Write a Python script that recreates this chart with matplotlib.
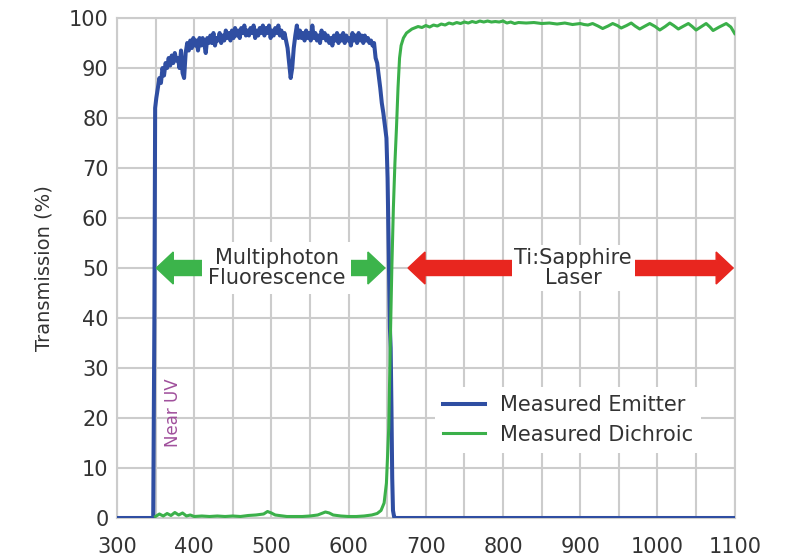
import matplotlib.pyplot as plt

plt.rcParams['font.family'] = ['DejaVu Sans']

# measured emitter (blue)
em_wl = [300, 347, 348.5, 349.5, 351, 353, 355, 357, 359, 361, 363, 365, 367, 369,
         371, 373, 375, 377, 379, 381, 383, 385, 387, 389, 391, 393, 395, 397, 399,
         401, 403, 405, 407, 409, 411, 413, 415, 417, 419, 421, 423, 425, 427, 429,
         431, 433, 435, 437, 439, 441, 443, 445, 447, 449, 451, 453, 455, 457, 459,
         461, 463, 465, 467, 469, 471, 473, 475, 477, 479, 481, 483, 485, 487, 489,
         491, 493, 495, 497, 499, 501, 503, 505, 507, 509, 511, 513, 515, 517, 519,
         521, 523, 525, 527, 529, 531, 533, 535, 537, 539, 541, 543, 545, 547, 549,
         551, 553, 555, 557, 559, 561, 563, 565, 567, 569, 571, 573, 575, 577, 579,
         581, 583, 585, 587, 589, 591, 593, 595, 597, 599, 601, 603, 605, 607, 609,
         611, 613, 615, 617, 619, 621, 623, 625, 627, 629, 631, 633, 635, 637, 639,
         641, 643, 645, 647, 649, 650.5, 651.5, 652.5, 653.5, 654.5, 655.5, 656.5,
         657.5, 659, 661, 1100]
em_t = [0, 0, 40, 82, 84, 86, 88, 87, 90, 88.5, 91, 90, 92, 90.5,
        92.5, 91, 93, 91.5, 92, 90, 93.5, 89, 88, 93, 95, 93.5, 95.5, 94, 96,
        94.5, 95.5, 93.5, 96, 94.5, 96, 95, 93, 96, 95, 96.5, 95, 97, 94.5, 96,
        95.5, 97, 95, 96.5, 95.5, 97.5, 96, 97, 95.5, 97.5, 96, 98, 96.5, 97.5, 96,
        98, 97, 98.5, 96.5, 97.5, 96.5, 98, 97, 98.5, 96, 97.5, 96.5, 98, 97, 98.5,
        96.5, 98, 97, 98.5, 96, 97.5, 96.5, 98, 97, 98.5, 96.5, 97.5, 96, 97, 95.5,
        94, 91, 88, 90, 94, 96.5, 98.5, 96, 97.5, 96, 97, 95.5, 97.5, 96, 97,
        95.5, 98.5, 96, 97, 95.5, 96.5, 95, 97.5, 96, 97, 95.5, 96.5, 95, 96, 94.5,
        96.5, 95.5, 97, 95, 96.5, 95.5, 97, 95, 96.5, 95.5, 96, 94.5, 97, 95.5, 96.5,
        95, 97, 95.5, 96.5, 95, 96.5, 95.5, 96, 95, 95.5, 94.5, 95, 92, 91, 88.5,
        86, 83, 81, 78.5, 76, 68, 58, 47, 38, 34, 22, 8,
        1.5, 0.2, 0, 0]

# measured dichroic (green)
di_wl = [350, 355, 360, 365, 370, 375, 380, 385, 390, 395, 400, 410, 420, 430, 440,
         450, 460, 470, 480, 490, 495, 500, 505, 510, 520, 530, 540, 550, 560, 565,
         570, 575, 580, 590, 600, 610, 620, 630, 637, 642, 646, 649, 652, 654, 656,
         658, 660, 662, 664, 666, 668, 671, 675, 682, 690, 695, 700, 705, 710, 715,
         720, 725, 730, 735, 740, 745, 750, 755, 760, 765, 770, 775, 780, 785, 790,
         795, 800, 805, 810, 815, 820, 830, 840, 850, 860, 870, 880, 890, 900, 905,
         910, 916, 923, 929, 936, 942, 948, 953, 960, 966, 971, 977, 984, 990, 997,
         1003, 1010, 1016, 1021, 1027, 1034, 1040, 1045, 1050, 1057, 1063, 1068, 1072,
         1080, 1089, 1095, 1100]
di_t = [0.3, 0.8, 0.4, 0.9, 0.5, 1.1, 0.6, 1.0, 0.4, 0.6, 0.3, 0.4, 0.3, 0.4, 0.3,
        0.4, 0.3, 0.5, 0.6, 0.8, 1.3, 1.0, 0.6, 0.5, 0.3, 0.3, 0.3, 0.4, 0.6, 0.9,
        1.2, 1.0, 0.6, 0.4, 0.3, 0.3, 0.4, 0.6, 0.9, 1.5, 3, 7, 18, 35, 50,
        62, 71, 78, 86, 92, 94.5, 96, 97, 97.8, 98.3, 98.1, 98.5, 98.2, 98.6, 98.4,
        98.8, 98.6, 99.0, 98.8, 99.1, 98.9, 99.2, 99.0, 99.3, 99.1, 99.4, 99.2, 99.4, 99.2, 99.3,
        99.2, 99.4, 99.0, 99.2, 98.9, 99.1, 99.0, 99.1, 98.9, 99.0, 98.8, 99.0, 98.7, 98.9, 98.7,
        98.6, 98.9, 98.4, 97.9, 98.4, 98.9, 98.5, 98.0, 98.5, 99.0, 98.4, 97.8, 98.4, 98.9, 98.3,
        97.6, 98.3, 99.0, 98.5, 97.8, 98.4, 98.9, 98.3, 97.6, 98.3, 98.9, 98.2, 97.5,
        98.2, 98.9, 98.2, 96.9]

x_ticks = [300, 400, 500, 600, 700, 800, 900, 1000, 1100]
x_minor = [350, 450, 550, 650, 750, 850, 950, 1050]
y_ticks = [0, 10, 20, 30, 40, 50, 60, 70, 80, 90, 100]

blue = '#2f4ea2'
green = '#3bb04a'
arrow_green = '#3cb44b'
arrow_red = '#e8261f'
grid_c = '#cccccc'
txt = '#333333'

fig = plt.figure(figsize=(7.9, 5.58), dpi=100)
ax = fig.add_axes([0.148, 0.0717, 0.782, 0.896])

ax.plot(em_wl, em_t, color=blue, lw=2.9, label='Measured Emitter', zorder=3)
ax.plot(di_wl, di_t, color=green, lw=2.2, label='Measured Dichroic', zorder=3)

ax.set_xlim(300, 1100)
ax.set_ylim(0, 100)
ax.set_xticks(x_ticks)
ax.set_xticks(x_minor, minor=True)
ax.set_yticks(y_ticks)
ax.grid(True, which='both', color=grid_c, lw=1.5, zorder=0)
ax.tick_params(which='both', length=0, labelsize=15, labelcolor=txt)
ax.tick_params(axis='x', pad=14)
ax.tick_params(axis='y', pad=6)
for s in ax.spines.values():
    s.set_color(grid_c)
    s.set_linewidth(1.5)
ax.set_ylabel('Transmission (%)', fontsize=14, color=txt, labelpad=11)

# arrows at 50 %
ax.arrow(410, 50, -37, 0, width=3, head_width=6.4, head_length=22,
         color=arrow_green, zorder=4)
ax.arrow(591, 50, 34, 0, width=3, head_width=6.4, head_length=22,
         color=arrow_green, zorder=4)
ax.arrow(815, 50, -116, 0, width=3, head_width=6.4, head_length=22,
         color=arrow_red, zorder=4)
ax.arrow(968, 50, 108, 0, width=3, head_width=6.4, head_length=22,
         color=arrow_red, zorder=4)

ax.text(507, 50, 'Multiphoton\nFluorescence', ha='center', va='center',
        fontsize=15, color=txt, linespacing=1.05, zorder=5,
        bbox=dict(fc='white', ec='none', pad=4))
ax.text(891, 50, 'Ti:Sapphire\nLaser', ha='center', va='center',
        fontsize=15, color=txt, linespacing=1.05, zorder=5,
        bbox=dict(fc='white', ec='none', pad=2))
ax.text(372, 21, 'Near UV', rotation=90, ha='center', va='center',
        fontsize=12, color='#a0509c', zorder=5)

leg = ax.legend(loc='upper left', bbox_to_anchor=(0.515, 0.262), fontsize=15,
                frameon=True, facecolor='white', edgecolor='none', framealpha=1,
                handlelength=2.0, handletextpad=0.7, labelspacing=0.45,
                borderpad=0.4, borderaxespad=0)
for t in leg.get_texts():
    t.set_color(txt)

fig.savefig('out.png', dpi=100)
